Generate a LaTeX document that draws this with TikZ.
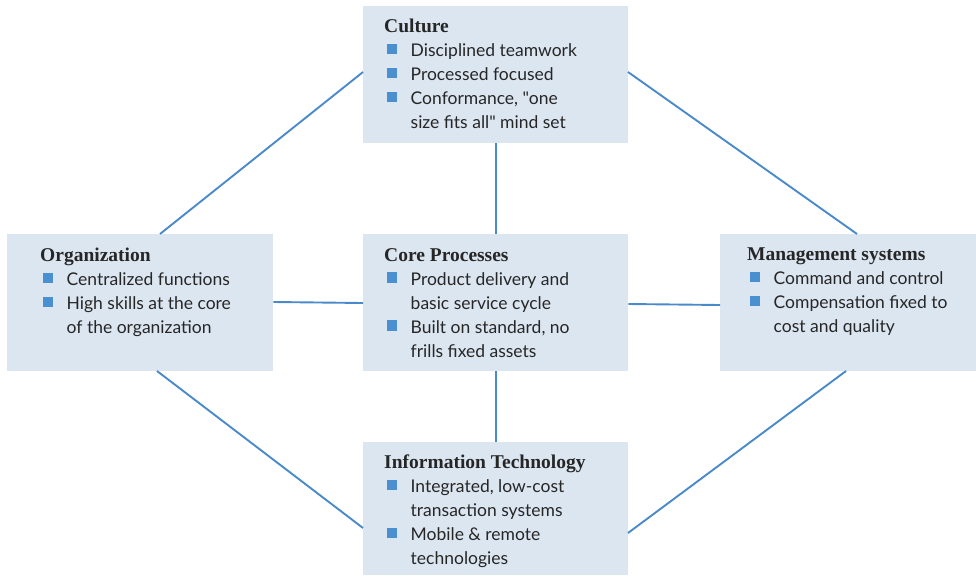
\documentclass[tikz,border=0pt]{standalone}
\usepackage{fontspec}
\setmainfont{Lato}[Ligatures=TeXOff]
\newfontfamily\titlefont{Liberation Serif}
\definecolor{boxfill}{HTML}{DCE6F1}
\definecolor{linec}{HTML}{4A8ACB}
\definecolor{bulc}{HTML}{4A8FD0}
\definecolor{txtc}{HTML}{262626}
\newcommand{\btitle}[1]{\rule{0pt}{12pt}{\titlefont\bfseries\fontsize{19.5}{24}\selectfont #1}}
\newcommand{\bitem}[1]{\hspace*{2.5pt}\textcolor{bulc}{\rule[2.5pt]{10.5pt}{10.5pt}}\hspace{13.5pt}#1}
\newcommand{\bcont}[1]{\hspace*{26.5pt}#1}
\newcommand{\sq}{\symbol{34}}
\tikzset{
  box/.style={fill=boxfill, draw=none, inner sep=0pt, anchor=north west},
  txt/.style={anchor=north west, inner sep=0pt, align=left, text=txtc, font=\fontsize{17.5}{24}\selectfont},
  conn/.style={draw=linec, line width=1.9pt}
}
\begin{document}
\begin{tikzpicture}[x=1pt,y=-1pt]
\useasboundingbox (0,0) rectangle (976,575);
% boxes
\node[box, minimum width=265pt, minimum height=137pt] (cul) at (363,6) {};
\node[box, minimum width=266pt, minimum height=137pt] (org) at (7,234) {};
\node[box, minimum width=265pt, minimum height=137pt] (core) at (363,234) {};
\node[box, minimum width=256pt, minimum height=137pt] (mgt) at (720,234) {};
\node[box, minimum width=265pt, minimum height=133pt] (it) at (363,442) {};
% connectors
\coordinate (orgT) at (160,234);
\coordinate (culL) at (363,72);
\coordinate (culR) at (628,72);
\coordinate (mgtT) at (857,234);
\coordinate (orgB) at (157,371);
\coordinate (itL) at (363,528);
\coordinate (itR) at (628,533);
\coordinate (mgtB) at (846,371);
\draw[conn] (orgT) -- (culL);
\draw[conn] (culR) -- (mgtT);
\draw[conn] (orgB) -- (itL);
\draw[conn] (itR) -- (mgtB);
\draw[conn] (cul.south) -- (core.north);
\draw[conn] (core.south) -- (it.north);
\draw[conn] (org.east |- 0,302) -- (core.west |- 0,303);
\draw[conn] (core.east |- 0,304) -- (mgt.west |- 0,305);
% texts
\node[txt] (cult) at (384,19) {\btitle{Culture}\\
\bitem{Disciplined teamwork}\\
\bitem{Processed focused}\\
\bitem{Conformance, \sq one}\\
\bcont{size fits all\sq{} mind set}};
\node[txt] (orgt) at (40,248) {\btitle{Organization}\\
\bitem{Centralized functions}\\
\bitem{High skills at the core}\\
\bcont{of the organization}};
\node[txt] (coret) at (384,248) {\btitle{Core Processes}\\
\bitem{Product delivery and}\\
\bcont{basic service cycle}\\
\bitem{Built on standard, no}\\
\bcont{frills fixed assets}};
\node[txt] (mgtt) at (747,248) {\btitle{Management systems}\\
\bitem{Command and control}\\
\bitem{Compensation fixed to}\\
\bcont{cost and quality}};
\node[txt] (itt) at (384,455) {\btitle{Information Technology}\\
\bitem{Integrated, low-cost}\\
\bcont{transaction systems}\\
\bitem{Mobile \& remote}\\
\bcont{technologies}};
\end{tikzpicture}
\end{document}
